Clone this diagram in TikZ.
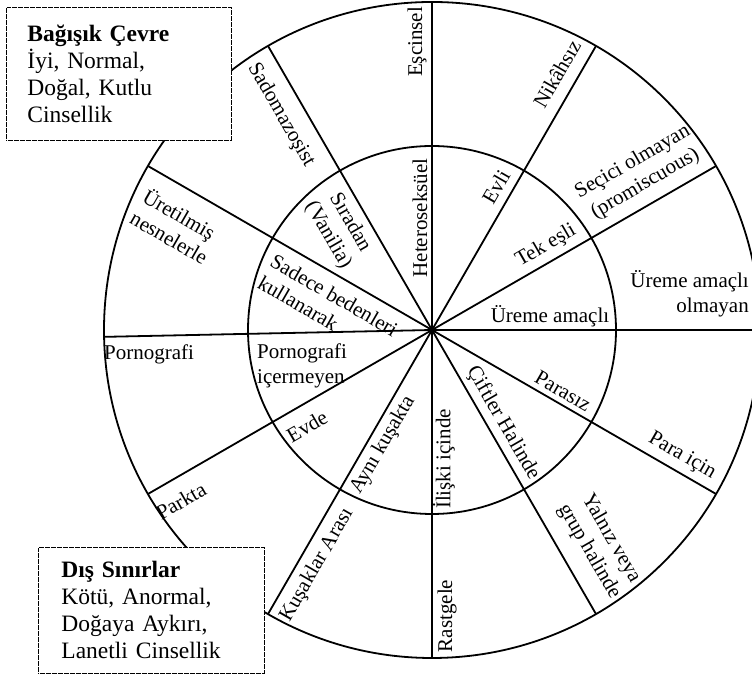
\documentclass[tikz,border=0pt]{standalone}
\usepackage{fontspec}
\setmainfont{Liberation Serif}
\begin{document}
\begin{tikzpicture}[x=1pt,y=1pt,
  ring/.style={line width=1.8pt},
  lbl/.style={font=\fontsize{21}{25}\selectfont, inner sep=0pt},
  infobox/.style={draw, fill=white, dash pattern=on 0.7pt off 0.5pt, line width=0.9pt,
    font=\fontsize{23.5}{27}\selectfont, align=left, anchor=north west, inner ysep=0pt}]
\useasboundingbox (0,0) rectangle (752,684);
\coordinate (O) at (432,354);
% wheel
\draw[ring] (O) circle[radius=328pt];
\draw[ring] (O) circle[radius=184pt];
\foreach \a in {0,30,60,90,120,150,181.2,210,240,270,300,330} \draw[ring] (O) -- ++(\a:328pt);
\fill (O) circle[radius=3.5pt];
% boxes
\node[infobox, inner xsep=21pt, text width=183pt, minimum height=133pt] (immune) at (6,677)
  {\textbf{Bağışık Çevre}\\İyi, Normal,\\Doğal, Kutlu\\Cinsellik};
\node[infobox, inner xsep=23pt, text width=180pt, minimum height=126pt] (outer) at (38,137)
  {\textbf{Dış Sınırlar}\\Kötü, Anormal,\\Doğaya Aykırı,\\Lanetli Cinsellik};
% labels
\node[lbl, rotate=90] (escinsel) at (417,642) {Eşcinsel};
\node[lbl, rotate=90] (hetero) at (420,466) {Heteroseksüel};
\node[lbl, rotate=60] (nikahsiz) at (557,610) {Nikâhsız};
\node[lbl, rotate=60] (evli) at (496,497) {Evli};
\node[lbl, rotate=30, align=center] (secici) at (639,511) {Seçici olmayan\\(promiscuous)};
\node[lbl, rotate=30] (tekesli) at (546,438) {Tek eşli};
\node[lbl] (ureme) at (550,368) {Üreme amaçlı};
\node[lbl, align=right, anchor=east] (uremeolm) at (749,390) {Üreme amaçlı\\olmayan};
\node[lbl, rotate=-30] (parasiz) at (563,293) {Parasız};
\node[lbl, rotate=-30] (paraicin) at (682,228) {Para için};
\node[lbl, rotate=-60] (ciftler) at (503,261) {Çiftler Halinde};
\node[lbl, rotate=-60, align=center] (yalniz) at (600,139) {Yalnız veya\\grup halinde};
\node[lbl, rotate=90] (iliski) at (444,225) {İlişki içinde};
\node[lbl, rotate=90] (rastgele) at (447,68) {Rastgele};
\node[lbl, rotate=60] (ayni) at (383,239) {Aynı kuşakta};
\node[lbl, rotate=60] (kusaklar) at (317,119) {Kuşaklar Arası};
\node[lbl, rotate=30] (evde) at (307,258) {Evde};
\node[lbl, rotate=30] (parkta) at (181,183) {Parkta};
\node[lbl, anchor=north west] (porno) at (104,339) {Pornografi};
\node[lbl, anchor=north west, align=left] (pornoic) at (257,340) {Pornografi\\içermeyen};
\node[lbl, rotate=-30, align=left] (uretilmis) at (176,458) {Üretilmiş\\nesnelerle};
\node[lbl, rotate=-30, align=left] (sadece) at (328,378) {Sadece bedenleri\\kullanarak};
\node[lbl, rotate=-60, align=center] (siradan) at (339,455) {Sıradan\\(Vanilia)};
\node[lbl, rotate=-60] (sado) at (281,569) {Sadomazoşist};
\end{tikzpicture}
\end{document}
